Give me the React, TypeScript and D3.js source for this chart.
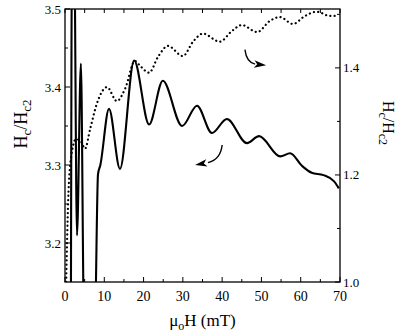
import React, { useEffect, useRef } from 'react';
import * as d3 from 'd3';

const width = 396;
const height = 336;
const margin = { left: 65, right: 56, top: 9, bottom: 54 };

// axis ticks
const fieldTicks = [0, 10, 20, 30, 40, 50, 60, 70];
const fieldMinor = [5, 15, 25, 35, 45, 55, 65];
const leftTicks = [3.2, 3.3, 3.4, 3.5];
const leftMinor = [3.25, 3.35, 3.45];
const rightTicks = [1.0, 1.2, 1.4];
const rightMinor = [1.1, 1.3, 1.5];

// solid curve, left axis (Hc/Hc2)
const solidField = [1.5, 1.8, 2.3, 3.05, 4.05, 4.85, 7.6, 8.4, 9.0, 11.2, 14.0, 17.6, 21.4, 24.9, 29.8, 33.6, 37.4, 41.2, 46.3, 49.4, 54.8, 57.3, 60.3, 62.8, 65.8, 68.5, 69.7];
const solidRatio = [3.1, 3.6, 3.6, 3.21, 3.43, 3.1, 3.1, 3.288, 3.3, 3.372, 3.295, 3.434, 3.352, 3.408, 3.35, 3.376, 3.341, 3.359, 3.328, 3.337, 3.311, 3.315, 3.299, 3.29, 3.287, 3.279, 3.27];

// dotted curve, right axis
const dottedField = [0.3, 0.8, 1.5, 2.8, 4.1, 5.1, 6.4, 8.1, 10.7, 13.2, 15.3, 17.8, 19.1, 21.4, 23.7, 26.2, 30.0, 32.6, 35.1, 39.4, 42.5, 45.0, 48.9, 52.2, 54.7, 58.0, 61.1, 64.1, 67.4, 69.5];
const dottedRatio = [1.0, 1.15, 1.23, 1.267, 1.262, 1.249, 1.286, 1.333, 1.364, 1.338, 1.361, 1.413, 1.404, 1.391, 1.421, 1.441, 1.422, 1.449, 1.464, 1.449, 1.469, 1.48, 1.467, 1.488, 1.495, 1.482, 1.497, 1.505, 1.497, 1.497];

// curved arrows: [field, value] in each axis' units
const arrowRight = [[45.8, 1.434], [46.2, 1.41], [48.4, 1.407]];
const arrowRightTip = [51.2, 1.405];
const arrowLeft = [[40.0, 3.3256], [39.6, 3.307], [36.4, 3.303]];
const arrowLeftTip = [33.1, 3.3];

const font = '"Liberation Serif", "DejaVu Serif", serif';

const App = () => {
  const ref = useRef<SVGSVGElement>(null);

  useEffect(() => {
    const svg = d3.select(ref.current);
    svg.selectAll('*').remove();

    const x0 = margin.left;
    const x1 = width - margin.right;
    const y0 = margin.top;
    const y1 = height - margin.bottom;

    const x = d3.scaleLinear().domain([0, 70]).range([x0, x1]);
    const yL = d3.scaleLinear().domain([3.15, 3.5]).range([y1, y0]);
    const yR = d3.scaleLinear().domain([1.0, 1.51]).range([y1, y0]);

    svg.append('defs').append('clipPath').attr('id', 'plotclip')
      .append('rect').attr('x', x0).attr('y', y0).attr('width', x1 - x0).attr('height', y1 - y0);

    const g = svg.append('g');

    // curves
    const solidLine = d3.line<number>()
      .x((d, i) => x(solidField[i]))
      .y(d => yL(d))
      .curve(d3.curveMonotoneX);
    g.append('path')
      .attr('clip-path', 'url(#plotclip)')
      .attr('d', solidLine(solidRatio))
      .attr('fill', 'none')
      .attr('stroke', '#000')
      .attr('stroke-width', 2.1)
      .attr('stroke-linejoin', 'round');

    const dottedLine = d3.line<number>()
      .x((d, i) => x(dottedField[i]))
      .y(d => yR(d))
      .curve(d3.curveMonotoneX);
    g.append('path')
      .attr('clip-path', 'url(#plotclip)')
      .attr('d', dottedLine(dottedRatio))
      .attr('fill', 'none')
      .attr('stroke', '#000')
      .attr('stroke-width', 2.2)
      .attr('stroke-linecap', 'round')
      .attr('stroke-dasharray', '0.1 4.2');

    // frame
    g.append('rect')
      .attr('x', x0).attr('y', y0)
      .attr('width', x1 - x0).attr('height', y1 - y0)
      .attr('fill', 'none').attr('stroke', '#000').attr('stroke-width', 1.3);

    // ticks (inward)
    const tick = (x1_: number, y1_: number, x2_: number, y2_: number) =>
      g.append('line').attr('x1', x1_).attr('y1', y1_).attr('x2', x2_).attr('y2', y2_)
        .attr('stroke', '#000').attr('stroke-width', 1);

    fieldTicks.forEach(v => { tick(x(v), y1, x(v), y1 - 5); tick(x(v), y0, x(v), y0 + 4); });
    fieldMinor.forEach(v => { tick(x(v), y1, x(v), y1 - 3); tick(x(v), y0, x(v), y0 + 4); });
    leftTicks.forEach(v => tick(x0, yL(v), x0 + 5, yL(v)));
    leftMinor.forEach(v => tick(x0, yL(v), x0 + 3, yL(v)));
    rightTicks.forEach(v => tick(x1, yR(v), x1 - 5, yR(v)));
    rightMinor.forEach(v => tick(x1, yR(v), x1 - 3, yR(v)));

    // tick labels
    const fmt = d3.format('.1f');
    g.selectAll('.xl').data(fieldTicks).join('text')
      .attr('x', d => x(d)).attr('y', y1 + 19)
      .attr('text-anchor', 'middle')
      .attr('font-family', font).attr('font-size', 14)
      .text(d => String(d));
    g.selectAll('.ll').data(leftTicks).join('text')
      .attr('x', x0 - 4).attr('y', d => yL(d) + 4.5)
      .attr('text-anchor', 'end')
      .attr('font-family', font).attr('font-size', 13)
      .text(d => fmt(d));
    g.selectAll('.rl').data(rightTicks).join('text')
      .attr('x', x1 + 3).attr('y', d => yR(d) + 4.5)
      .attr('text-anchor', 'start')
      .attr('font-family', font).attr('font-size', 13)
      .text(d => fmt(d));

    // axis titles
    const xt = g.append('text')
      .attr('x', (x0 + x1) / 2).attr('y', y1 + 44)
      .attr('text-anchor', 'middle')
      .attr('font-family', font).attr('font-size', 17);
    xt.append('tspan').text('μ');
    xt.append('tspan').attr('dy', 4).attr('font-size', 12).text('o');
    xt.append('tspan').attr('dy', -4).text('H (mT)');

    const lt = g.append('text')
      .attr('transform', `translate(27,124) rotate(-90)`)
      .attr('text-anchor', 'middle')
      .attr('font-family', font).attr('font-size', 18);
    lt.append('tspan').text('H');
    lt.append('tspan').attr('dy', 4).attr('font-size', 13).text('c');
    lt.append('tspan').attr('dy', -4).text('/H');
    lt.append('tspan').attr('dy', 4).attr('font-size', 13).text('c2');

    const rt = g.append('text')
      .attr('transform', `translate(383,123) rotate(90)`)
      .attr('text-anchor', 'middle')
      .attr('font-family', font).attr('font-size', 16);
    rt.append('tspan').text('H');
    rt.append('tspan').attr('dy', 4).attr('font-size', 12).text('c');
    rt.append('tspan').attr('dy', -4).text('/H');
    rt.append('tspan').attr('dy', 4).attr('font-size', 12).text('c2');

    // arrows
    const drawArrow = (pts: number[][], tip: number[], ys: d3.ScaleLinear<number, number>) => {
      const p = pts.map(d => [x(d[0]), ys(d[1])]);
      const t = [x(tip[0]), ys(tip[1])];
      g.append('path')
        .attr('d', `M${p[0][0]},${p[0][1]} Q${p[1][0]},${p[1][1]} ${p[2][0]},${p[2][1]}`)
        .attr('fill', 'none').attr('stroke', '#000').attr('stroke-width', 1.4);
      const dx = t[0] - p[2][0];
      const dy = t[1] - p[2][1];
      const len = Math.hypot(dx, dy);
      const ux = dx / len, uy = dy / len;
      const hw = 3.8;
      const bx = t[0] - ux * 12, by = t[1] - uy * 12;
      const mx = t[0] - ux * 9, my = t[1] - uy * 9;
      g.append('path')
        .attr('d', `M${t[0]},${t[1]} L${bx - uy * hw},${by + ux * hw} L${mx},${my} L${bx + uy * hw},${by - ux * hw} Z`)
        .attr('fill', '#000');
    };
    drawArrow(arrowRight, arrowRightTip, yR);
    drawArrow(arrowLeft, arrowLeftTip, yL);
  }, []);

  return (
    <svg
      ref={ref}
      width={width}
      height={height}
      style={{ position: 'absolute', left: 0, top: 0, background: '#fff' }}
    />
  );
};

export default App;
